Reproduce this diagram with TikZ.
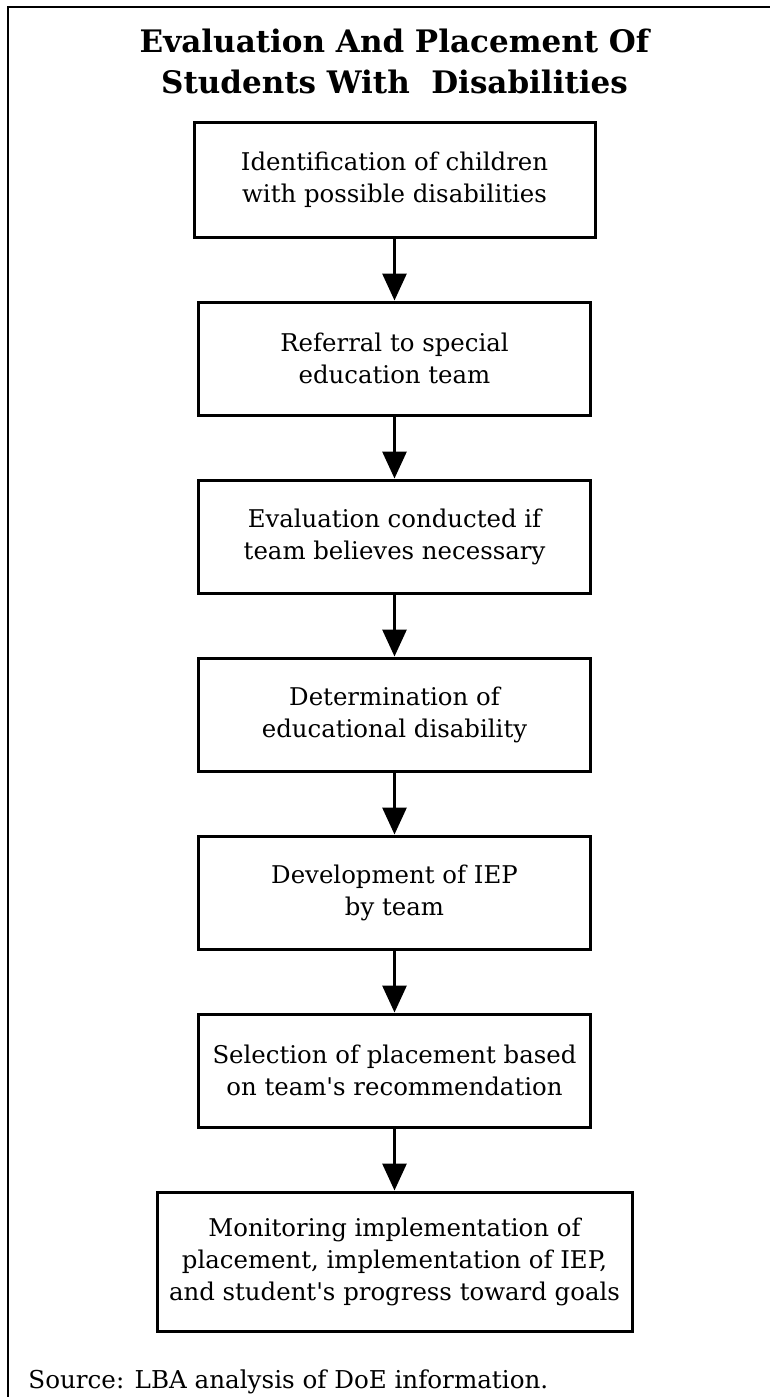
\documentclass[tikz,border=0pt]{standalone}
\usepackage{fontspec}
\setmainfont{DejaVu Serif}
\usepackage{tikz}
\usetikzlibrary{positioning, arrows.meta}

\begin{document}
\begin{tikzpicture}[
  x=0.5pt, y=-0.5pt,
  stepbox/.style={draw, rectangle, line width=1.5pt, minimum width=196pt, minimum height=56.5pt,
    inner sep=0pt, align=center, font=\fontsize{12.2}{16}\selectfont},
  node distance=31pt,
  >={Triangle[width=12pt, length=13.5pt]}
]
  \useasboundingbox (0,0) rectangle (770,1397);

  % 0. Outer frame (runs off the bottom and right of the page)
  \draw[line width=1pt] (8,1420) -- (8,7) -- (790,7);

  % 1. Title
  \node[anchor=north, align=center, inner sep=0pt,
        font=\fontsize{15.5}{20.5}\selectfont\bfseries] (title) at (394.5,29)
        {Evaluation And Placement Of\\Students With~ Disabilities};

  % 2. Steps, top to bottom
  \node[stepbox, minimum width=200.5pt, minimum height=57.5pt] (ident) at (394.5,179.5)
        {Identification of children\\with possible disabilities};
  \node[stepbox, below=of ident] (refer) {Referral to special\\education team};
  \node[stepbox, below=of refer] (evalu) {Evaluation conducted if\\team believes necessary};
  \node[stepbox, below=of evalu] (determ) {Determination of\\educational disability};
  \node[stepbox, below=of determ] (iep) {Development of IEP\\by team};
  \node[stepbox, below=of iep] (select) {Selection of placement based\\on team\textquotesingle s recommendation};
  \node[stepbox, below=of select, minimum width=237.5pt, minimum height=69.5pt] (monit)
        {Monitoring implementation of\\placement, implementation of IEP,\\and student\textquotesingle s progress toward goals};

  % 3. Arrows between the steps
  \draw[->, line width=1.5pt] (ident.south) -- (refer.north);
  \draw[->, line width=1.5pt] (refer.south) -- (evalu.north);
  \draw[->, line width=1.5pt] (evalu.south) -- (determ.north);
  \draw[->, line width=1.5pt] (determ.south) -- (iep.north);
  \draw[->, line width=1.5pt] (iep.south) -- (select.north);
  \draw[->, line width=1.5pt] (select.south) -- (monit.north);

  % 4. Source line
  \node[anchor=base west, inner sep=0pt, font=\fontsize{12.3}{14}\selectfont] (source) at (28,1388)
        {Source: LBA analysis of DoE information.};

\end{tikzpicture}
\end{document}
